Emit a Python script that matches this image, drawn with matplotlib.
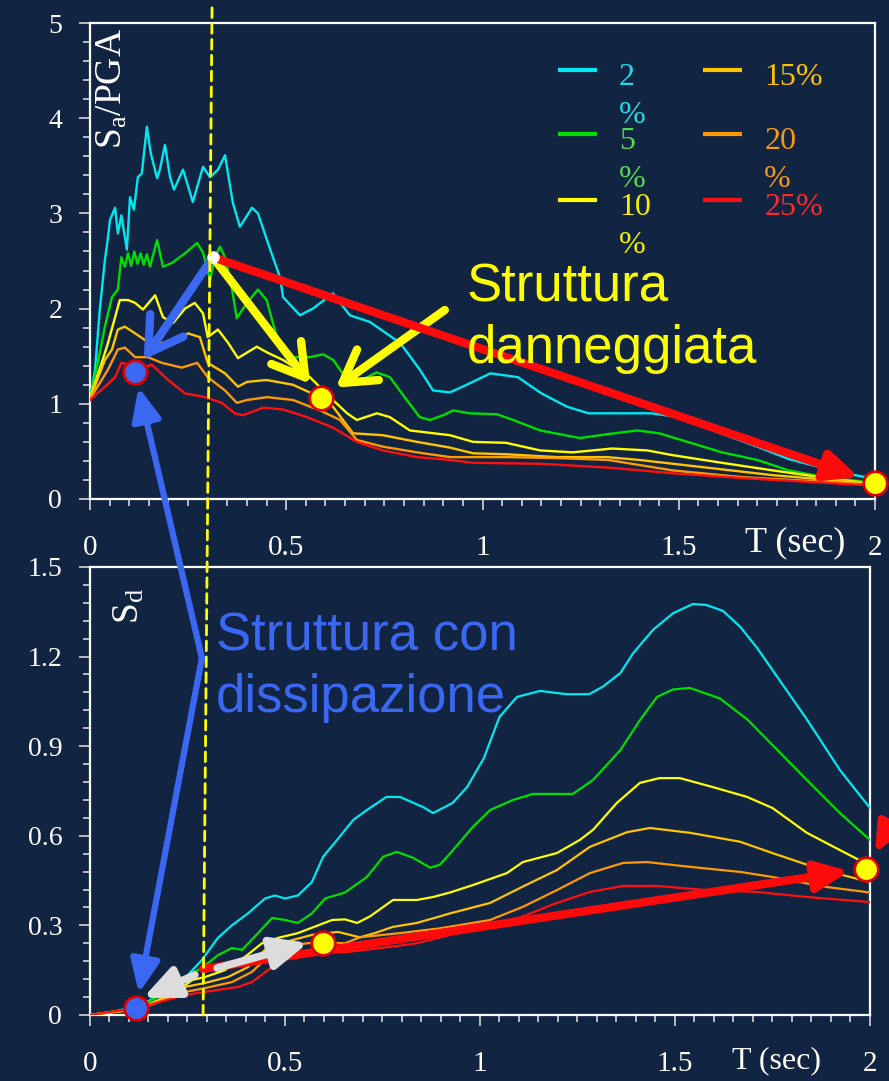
"""
Spettri di risposta Sa/PGA e Sd per diversi smorzamenti
"""
import matplotlib
matplotlib.use('Agg')
import matplotlib.pyplot as plt
from matplotlib.patches import ConnectionPatch
from matplotlib.ticker import MultipleLocator, FuncFormatter

# ---- data: Sa/PGA (top panel) ----
sa_T_2 = [0, 0.013, 0.025, 0.038, 0.046, 0.051, 0.064, 0.071, 0.08, 0.094, 0.102, 0.112, 0.122, 0.132,
          0.145, 0.155, 0.171, 0.178, 0.191, 0.204, 0.214, 0.237, 0.262, 0.288, 0.306, 0.326, 0.344, 0.364,
          0.382, 0.413, 0.428, 0.451, 0.466, 0.484, 0.492, 0.535, 0.568, 0.619, 0.662, 0.713, 0.79, 0.84,
          0.874, 0.917, 0.96, 1.02, 1.09, 1.15, 1.215, 1.27, 1.43, 1.5, 1.6, 1.7, 1.78, 1.9, 2.0]
sa_2 = [1.05, 1.36, 1.99, 2.51, 2.75, 2.93, 3.06, 2.79, 2.98, 2.62, 3.17, 3.04, 3.38, 3.42,
        3.91, 3.63, 3.37, 3.46, 3.72, 3.38, 3.25, 3.46, 3.12, 3.49, 3.38, 3.46, 3.61, 3.11,
        2.86, 3.06, 3.00, 2.72, 2.54, 2.33, 2.12, 1.93, 2.0, 2.16, 1.93, 1.86, 1.64, 1.36,
        1.14, 1.12, 1.20, 1.32, 1.28, 1.11, 0.97, 0.90, 0.90, 0.86, 0.70, 0.55, 0.42, 0.29, 0.21]

sa_T_5 = [0, 0.02, 0.038, 0.056, 0.071, 0.08, 0.089, 0.097, 0.105, 0.113, 0.121, 0.129, 0.137, 0.145,
          0.153, 0.171, 0.186, 0.209, 0.242, 0.273, 0.288, 0.306, 0.318, 0.331, 0.344, 0.362, 0.374,
          0.40, 0.428, 0.45, 0.476, 0.502, 0.56, 0.594, 0.62, 0.655, 0.68, 0.73, 0.764, 0.807, 0.84,
          0.866, 0.9, 0.925, 0.968, 1.037, 1.078, 1.147, 1.248, 1.317, 1.394, 1.45, 1.53, 1.61, 1.70,
          1.78, 1.87, 2.0]
sa_5 = [1.07, 1.43, 1.81, 2.12, 2.20, 2.54, 2.44, 2.58, 2.45, 2.60, 2.47, 2.58, 2.46, 2.57,
        2.44, 2.72, 2.44, 2.48, 2.58, 2.69, 2.59, 2.30, 2.54, 2.65, 2.54, 2.20, 1.90,
        2.06, 2.20, 2.09, 1.70, 1.49, 1.49, 1.52, 1.46, 1.25, 1.22, 1.33, 1.28, 1.04, 0.86,
        0.83, 0.88, 0.93, 0.90, 0.89, 0.83, 0.72, 0.64, 0.68, 0.72, 0.69, 0.59, 0.49, 0.41,
        0.30, 0.23, 0.17]

sa_T_10 = [0, 0.03, 0.046, 0.064, 0.076, 0.097, 0.115, 0.135, 0.166, 0.186, 0.212, 0.242, 0.267, 0.288,
           0.30, 0.326, 0.352, 0.377, 0.425, 0.451, 0.492, 0.56, 0.619, 0.655, 0.68, 0.731, 0.764, 0.815,
           0.917, 0.976, 1.06, 1.147, 1.23, 1.33, 1.42, 1.485, 1.61, 1.74, 1.91, 2.0]
sa_10 = [1.07, 1.43, 1.64, 1.91, 2.09, 2.09, 2.06, 1.99, 2.14, 1.91, 1.85, 2.0, 2.06, 1.95,
         1.70, 1.78, 1.64, 1.48, 1.60, 1.54, 1.46, 1.28, 1.04, 0.90, 0.83, 0.90, 0.86, 0.72,
         0.67, 0.60, 0.59, 0.51, 0.49, 0.53, 0.51, 0.46, 0.38, 0.30, 0.20, 0.16]

sa_T_15 = [0, 0.038, 0.056, 0.071, 0.089, 0.115, 0.14, 0.173, 0.209, 0.25, 0.28, 0.30, 0.344, 0.377,
           0.40, 0.45, 0.517, 0.586, 0.619, 0.67, 0.746, 0.833, 0.917, 0.976, 1.06, 1.19, 1.317, 1.40,
           1.57, 1.74, 2.0]
sa_15 = [1.05, 1.46, 1.57, 1.78, 1.81, 1.74, 1.67, 1.64, 1.64, 1.74, 1.70, 1.43, 1.32, 1.18,
         1.23, 1.25, 1.20, 1.07, 0.97, 0.69, 0.67, 0.60, 0.54, 0.48, 0.47, 0.44, 0.44, 0.41,
         0.33, 0.25, 0.16]

sa_T_20 = [0, 0.046, 0.071, 0.089, 0.115, 0.148, 0.183, 0.234, 0.273, 0.30, 0.344, 0.374, 0.40, 0.451,
           0.517, 0.586, 0.637, 0.68, 0.746, 0.833, 0.917, 0.976, 1.06, 1.19, 1.32, 1.485, 1.66, 2.0]
sa_20 = [1.05, 1.36, 1.57, 1.59, 1.49, 1.49, 1.43, 1.38, 1.43, 1.28, 1.14, 1.01, 1.04, 1.07,
         1.04, 0.93, 0.83, 0.62, 0.55, 0.49, 0.44, 0.44, 0.44, 0.43, 0.41, 0.30, 0.23, 0.15]

sa_T_25 = [0, 0.038, 0.064, 0.08, 0.132, 0.158, 0.199, 0.242, 0.293, 0.336, 0.369, 0.39, 0.441, 0.492,
           0.553, 0.619, 0.68, 0.746, 0.833, 0.917, 0.976, 1.147, 1.32, 1.485, 1.66, 2.0]
sa_25 = [1.04, 1.18, 1.28, 1.43, 1.38, 1.41, 1.25, 1.11, 1.07, 1.01, 0.90, 0.88, 0.96, 0.94,
         0.86, 0.75, 0.60, 0.51, 0.44, 0.41, 0.38, 0.37, 0.33, 0.27, 0.22, 0.14]

# ---- data: Sd (bottom panel) ----
sd_T_2 = [0, 0.056, 0.115, 0.185, 0.244, 0.287, 0.328, 0.364, 0.405, 0.449, 0.474, 0.5, 0.533, 0.569,
          0.598, 0.633, 0.675, 0.71, 0.76, 0.795, 0.854, 0.88, 0.93, 0.967, 1.01, 1.05, 1.095, 1.154,
          1.223, 1.28, 1.316, 1.36, 1.392, 1.444, 1.495, 1.546, 1.58, 1.623, 1.667, 1.71, 1.75, 1.838,
          1.923, 2.0]
sd_2 = [0, 0.01, 0.027, 0.067, 0.124, 0.184, 0.258, 0.30, 0.34, 0.39, 0.40, 0.39, 0.40, 0.445,
        0.53, 0.585, 0.653, 0.686, 0.73, 0.73, 0.696, 0.676, 0.71, 0.763, 0.86, 0.998, 1.065, 1.085,
        1.074, 1.074, 1.10, 1.145, 1.21, 1.29, 1.345, 1.376, 1.373, 1.353, 1.30, 1.23, 1.155, 0.99,
        0.82, 0.693]

sd_T_5 = [0, 0.128, 0.2, 0.244, 0.287, 0.328, 0.364, 0.39, 0.431, 0.467, 0.5, 0.533, 0.569, 0.603,
          0.654, 0.71, 0.752, 0.787, 0.829, 0.872, 0.897, 0.923, 0.982, 1.026, 1.085, 1.136, 1.238,
          1.29, 1.36, 1.41, 1.454, 1.495, 1.538, 1.615, 1.685, 1.75, 1.838, 1.923, 2.0]
sd_5 = [0, 0.025, 0.084, 0.127, 0.157, 0.20, 0.224, 0.218, 0.274, 0.325, 0.318, 0.308, 0.34, 0.39,
        0.41, 0.462, 0.53, 0.546, 0.526, 0.493, 0.503, 0.54, 0.63, 0.686, 0.72, 0.74, 0.74,
        0.787, 0.887, 0.987, 1.065, 1.09, 1.095, 1.06, 0.99, 0.904, 0.787, 0.676, 0.586]

sd_T_10 = [0, 0.128, 0.218, 0.262, 0.295, 0.346, 0.397, 0.441, 0.482, 0.533, 0.585, 0.621, 0.654,
           0.685, 0.718, 0.777, 0.838, 0.88, 0.923, 0.982, 1.069, 1.11, 1.197, 1.256, 1.29, 1.351,
           1.41, 1.46, 1.513, 1.597, 1.685, 1.75, 1.838, 1.923, 2.0]
sd_10 = [0, 0.022, 0.074, 0.117, 0.127, 0.15, 0.194, 0.24, 0.258, 0.274, 0.30, 0.318, 0.32,
         0.308, 0.33, 0.385, 0.385, 0.395, 0.41, 0.435, 0.475, 0.512, 0.542, 0.586, 0.62, 0.71,
         0.777, 0.793, 0.793, 0.763, 0.73, 0.693, 0.61, 0.552, 0.50]

sd_T_15 = [0, 0.128, 0.244, 0.295, 0.354, 0.405, 0.449, 0.5, 0.569, 0.636, 0.692, 0.73, 0.777, 0.838,
           0.897, 0.923, 1.026, 1.11, 1.197, 1.282, 1.377, 1.436, 1.538, 1.667, 1.75, 1.88, 2.0]
sd_15 = [0, 0.02, 0.094, 0.107, 0.127, 0.16, 0.218, 0.244, 0.268, 0.278, 0.26, 0.274, 0.295, 0.308,
         0.33, 0.34, 0.375, 0.43, 0.485, 0.563, 0.612, 0.626, 0.61, 0.58, 0.542, 0.485, 0.445]

sd_T_20 = [0, 0.128, 0.244, 0.295, 0.364, 0.415, 0.467, 0.518, 0.585, 0.654, 0.692, 0.795, 0.897,
           1.026, 1.11, 1.197, 1.282, 1.367, 1.428, 1.538, 1.667, 1.75, 1.88, 2.0]
sd_20 = [0, 0.02, 0.077, 0.09, 0.11, 0.144, 0.207, 0.234, 0.244, 0.24, 0.26, 0.274, 0.29,
         0.318, 0.362, 0.418, 0.475, 0.509, 0.512, 0.496, 0.479, 0.462, 0.43, 0.41]

sd_T_25 = [0, 0.128, 0.244, 0.295, 0.38, 0.415, 0.467, 0.518, 0.585, 0.654, 0.77, 0.838, 0.923,
           1.026, 1.11, 1.197, 1.282, 1.367, 1.454, 1.58, 1.71, 1.838, 2.0]
sd_25 = [0, 0.025, 0.067, 0.077, 0.094, 0.11, 0.16, 0.20, 0.21, 0.21, 0.228, 0.24, 0.268,
         0.295, 0.33, 0.375, 0.412, 0.432, 0.432, 0.418, 0.412, 0.395, 0.378]

damping_labels = ['2\n%', '5\n%', '10\n%', '15%', '20\n%', '25%']
line_colors = ['#00e8f0', '#00dd00', '#ffff00', '#ffc400', '#ff9900', '#ff1010']
label_colors = ['#1fdde8', '#55d855', '#f6f000', '#ffc000', '#f59a10', '#ff2a2a']

# points of the structure (T, value)
T_struct_sa, sa_struct = 0.313, 2.54      # elastic structure, top
T_diss_sa, sa_diss = 0.115, 1.33          # with dissipation
T_dmg_sa, sa_dmg = 0.589, 1.06            # damaged
T_end_sa, sa_end = 2.0, 0.17
T_diss_sd, sd_diss = 0.118, 0.023
T_dmg_sd, sd_dmg = 0.597, 0.241
T_end_sd, sd_end = 1.99, 0.49
T_struct_sd, sd_struct = 0.29, 0.154

BG = '#112441'
BLUE = '#3a68f2'
RED = '#ff0a0a'
GREY = '#dcdcdc'

plt.rcParams['font.family'] = ['Liberation Serif', 'DejaVu Serif']
plt.rcParams['mathtext.fontset'] = 'custom'
plt.rcParams['mathtext.rm'] = 'Liberation Serif'
plt.rcParams['mathtext.it'] = 'Liberation Serif:italic'

fig = plt.figure(figsize=(8.89, 10.81), dpi=100, facecolor=BG)
ax1 = fig.add_axes([0.1012, 0.5384, 0.8831, 0.4403])
ax2 = fig.add_axes([0.1012, 0.0611, 0.8774, 0.4144])

sa_series = [(sa_T_2, sa_2), (sa_T_5, sa_5), (sa_T_10, sa_10),
             (sa_T_15, sa_15), (sa_T_20, sa_20), (sa_T_25, sa_25)]
sd_series = [(sd_T_2, sd_2), (sd_T_5, sd_5), (sd_T_10, sd_10),
             (sd_T_15, sd_15), (sd_T_20, sd_20), (sd_T_25, sd_25)]

for (tt, vv), c in zip(sa_series, line_colors):
    ax1.plot(tt, vv, color=c, lw=1.7, zorder=3)
for (tt, vv), c in zip(sd_series, line_colors):
    ax2.plot(tt, vv, color=c, lw=1.6, zorder=3)

fmt = FuncFormatter(lambda v, p: f'{v:g}')
for ax, ymax, ymaj, ymin in [(ax1, 5, 1, 0.2), (ax2, 1.5, 0.3, 0.06)]:
    ax.set_facecolor(BG)
    ax.set_xlim(0, 2)
    ax.set_ylim(0, ymax)
    ax.xaxis.set_major_locator(MultipleLocator(0.5))
    ax.xaxis.set_minor_locator(MultipleLocator(0.05))
    ax.yaxis.set_major_locator(MultipleLocator(ymaj))
    ax.yaxis.set_minor_locator(MultipleLocator(ymin))
    ax.xaxis.set_major_formatter(fmt)
    ax.yaxis.set_major_formatter(fmt)
    for s in ax.spines.values():
        s.set_color('white')
        s.set_linewidth(1.6)
    ax.tick_params(which='major', direction='out', length=8, width=1.1, colors='#e6e6e6')
    ax.tick_params(which='minor', direction='out', length=5, width=1.1, colors='#e6e6e6')
    ax.tick_params(axis='x', which='major', pad=18, labelsize=21, labelcolor='white')
    ax.tick_params(axis='y', which='major', pad=12, labelsize=20, labelcolor='white')

# axis titles
ax1.text(0.029, 0.99, r'S$_{\mathrm{a}}$/PGA', transform=ax1.transAxes, rotation=90,
         ha='center', va='top', fontsize=27, color='white')
ax2.text(0.051, 0.953, r'S$_{\mathrm{d}}$', transform=ax2.transAxes, rotation=90,
         ha='center', va='top', fontsize=27, color='white')
ax1.text(0.834, -0.111, 'T (sec)', transform=ax1.transAxes, ha='left', va='baseline',
         fontsize=26, color='white')
ax2.text(0.823, -0.118, 'T (sec)', transform=ax2.transAxes, ha='left', va='baseline',
         fontsize=23, color='white')

# legend (drawn by hand to keep the wrapped labels)
leg_x = [0.596, 0.596, 0.596, 0.781, 0.781, 0.781]
leg_y = [0.901, 0.767, 0.628, 0.901, 0.767, 0.628]
for i, lab in enumerate(damping_labels):
    x0, y0 = leg_x[i], leg_y[i]
    ax1.plot([x0, x0 + 0.05], [y0, y0], transform=ax1.transAxes, color=line_colors[i],
             lw=3, solid_capstyle='butt', zorder=5)
    for k, part in enumerate(lab.split('\n')):
        ax1.text(x0 + 0.078, y0 - 0.031 - k * 0.08, part, transform=ax1.transAxes,
                 color=label_colors[i], fontsize=23, ha='left', va='baseline', zorder=5)

# vertical dashed line at the period of the structure
dash = ConnectionPatch(xyA=(0.311, 5.16), coordsA=ax1.transData,
                       xyB=(0.29, -0.012), coordsB=ax2.transData,
                       color='#ffff00', lw=2, linestyle=(0, (3.5, 2.2)), zorder=6)
fig.add_artist(dash)

# arrows in the top panel
arr_open = '->,head_length=0.75,head_width=0.45'
arr_fill = '-|>,head_length=0.9,head_width=0.4'
ax1.annotate('', xy=(T_diss_sa, sa_diss), xytext=(T_struct_sa, sa_struct),
             arrowprops=dict(arrowstyle=arr_open, color=BLUE, lw=6, mutation_scale=32,
                             shrinkA=0, shrinkB=11), zorder=8)
ax1.annotate('', xy=(T_dmg_sa, sa_dmg), xytext=(T_struct_sa, sa_struct),
             arrowprops=dict(arrowstyle=arr_open, color='#ffff00', lw=6, mutation_scale=30,
                             shrinkA=0, shrinkB=13), zorder=8)
ax1.annotate('', xy=(T_dmg_sa, sa_dmg), xytext=(0.904, 1.985),
             arrowprops=dict(arrowstyle=arr_open, color='#ffff00', lw=6, mutation_scale=30,
                             shrinkA=0, shrinkB=13), zorder=8)
ax1.annotate('', xy=(T_end_sa, sa_end), xytext=(T_struct_sa, sa_struct),
             arrowprops=dict(arrowstyle=arr_fill, color=RED, lw=6, mutation_scale=22,
                             shrinkA=0, shrinkB=12), zorder=8, annotation_clip=False)
ax1.plot([T_struct_sa], [sa_struct], 'o', ms=8, color='white', zorder=9)

ax1.text(0.48, 0.286, 'Struttura\ndanneggiata', transform=ax1.transAxes, color='#ffff00',
         fontsize=38, family='Liberation Sans', ha='left', va='baseline', linespacing=1.3,
         zorder=9)

# arrows in the bottom panel
ax2.annotate('', xy=(T_end_sd, sd_end), xytext=(T_struct_sd, sd_struct),
             arrowprops=dict(arrowstyle=arr_fill, color=RED, lw=6, mutation_scale=22,
                             shrinkA=0, shrinkB=12), zorder=7, annotation_clip=False)
ax2.annotate('', xy=(2.013, 0.542), xytext=(2.085, 0.716),
             arrowprops=dict(arrowstyle=arr_fill, color=RED, lw=5, mutation_scale=20,
                             shrinkA=0, shrinkB=0), zorder=7, annotation_clip=False)
ax2.annotate('', xy=(0.136, 0.057), xytext=(0.269, 0.134),
             arrowprops=dict(arrowstyle=arr_fill, color=GREY, lw=5.5, mutation_scale=24,
                             shrinkA=0, shrinkB=0), zorder=8)
ax2.annotate('', xy=(0.559, 0.241), xytext=(0.326, 0.157),
             arrowprops=dict(arrowstyle=arr_fill, color=GREY, lw=5.5, mutation_scale=24,
                             shrinkA=0, shrinkB=0), zorder=8)

# blue arrows: from the label to both "dissipative" points
ax2.annotate('', xy=(T_diss_sd, sd_diss), xytext=(0.287, 1.195),
             arrowprops=dict(arrowstyle=arr_fill, color=BLUE, lw=4.5, mutation_scale=22,
                             shrinkA=0, shrinkB=11), zorder=8)
con = ConnectionPatch(xyA=(0.287, 1.195), coordsA=ax2.transData,
                      xyB=(T_diss_sa, sa_diss), coordsB=ax1.transData,
                      arrowstyle=arr_fill, color=BLUE, lw=4.5, mutation_scale=22,
                      shrinkA=0, shrinkB=11, zorder=8)
fig.add_artist(con)

ax2.text(0.1615, 0.676, 'Struttura con\ndissipazione', transform=ax2.transAxes, color=BLUE,
         fontsize=38, family='Liberation Sans', ha='left', va='baseline', linespacing=1.3,
         zorder=9)

# marked points
mk = dict(ms=17, mec='#e00000', mew=2, zorder=12, clip_on=False, ls='none', marker='o')
ax1.plot([T_diss_sa], [sa_diss], mfc=BLUE, **mk)
ax1.plot([T_dmg_sa, T_end_sa], [sa_dmg, sa_end], mfc='#ffff00', **mk)
ax2.plot([T_diss_sd], [sd_diss], mfc=BLUE, **mk)
ax2.plot([T_dmg_sd, T_end_sd], [sd_dmg, sd_end], mfc='#ffff00', **mk)

fig.savefig('out.png', dpi=100, facecolor=BG)
print("Saved: out.png")
